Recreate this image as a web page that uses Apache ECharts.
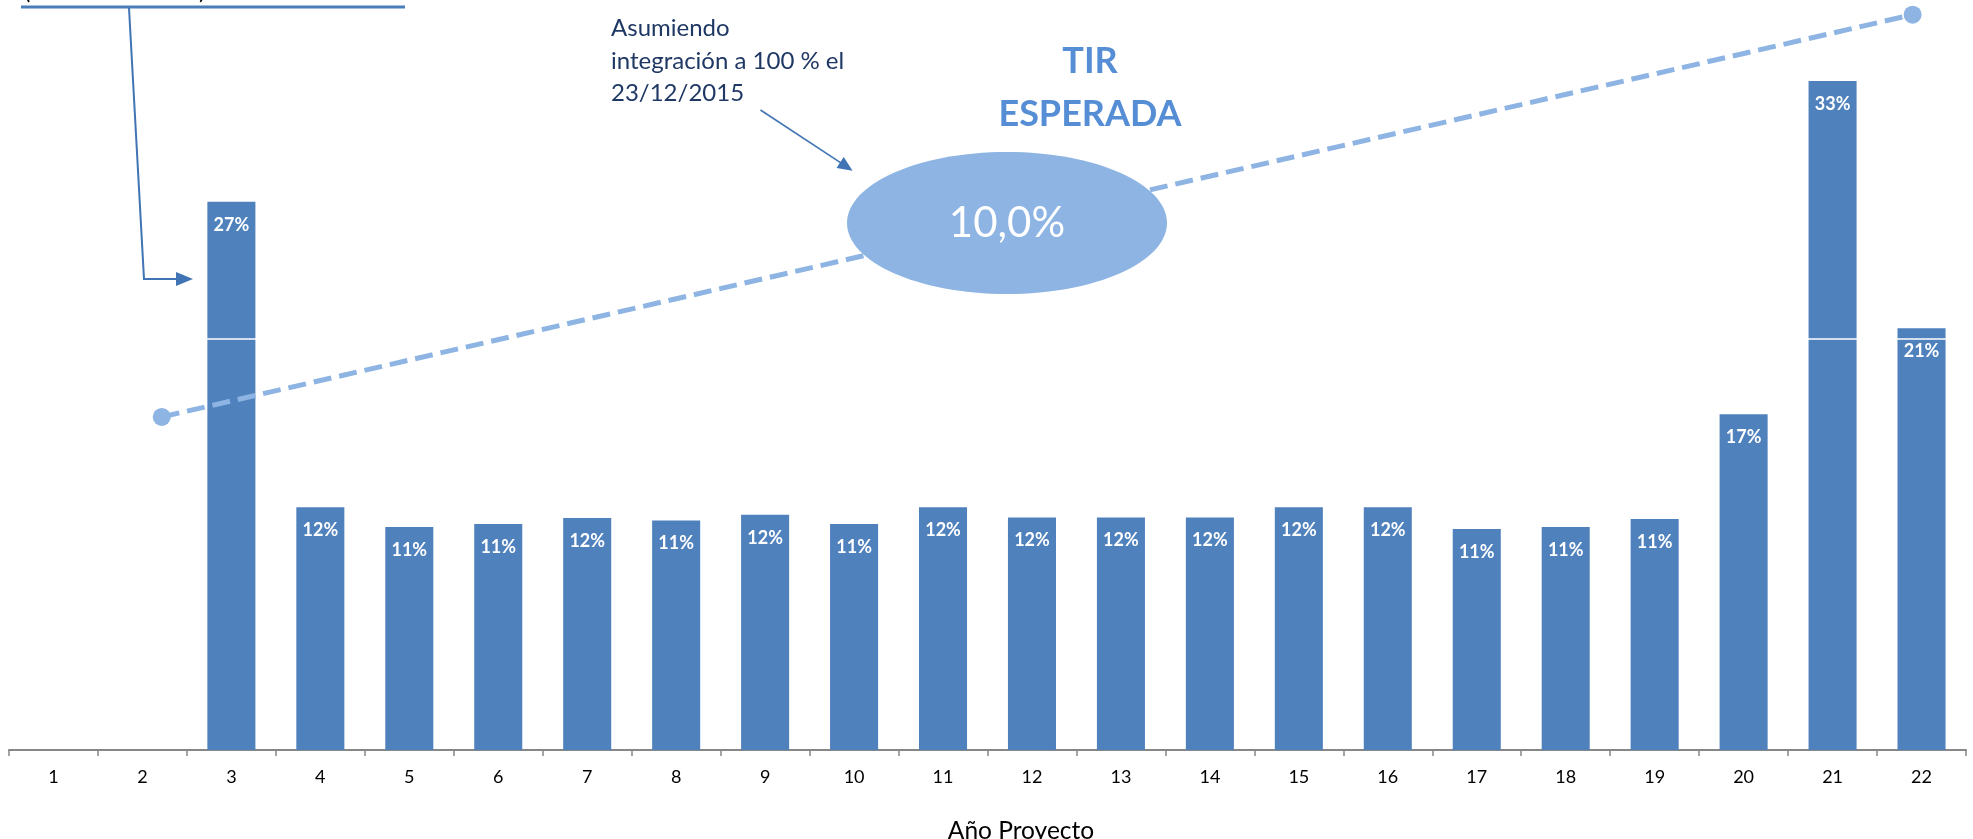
<!DOCTYPE html>
<html lang="es">
<head>
<meta charset="utf-8">
<title>TIR por año de proyecto</title>
<script src="https://cdn.jsdelivr.net/npm/echarts@6/dist/echarts.min.js"></script>
<style>
  html, body { margin: 0; padding: 0; background: #ffffff; }
  #chart { width: 1973px; height: 839px; }
</style>
</head>
<body>
<div id="chart"></div>
<script>
// Años del proyecto (eje de categorías)
const years = ['1','2','3','4','5','6','7','8','9','10','11','12','13','14','15','16','17','18','19','20','21','22'];

// TIR anual por año de proyecto (fracción); los años 1 y 2 no tienen valor
const tirAnual = [null, null, 0.2723, 0.1206, 0.1108, 0.1123, 0.1152, 0.1140, 0.1168, 0.1123,
                  0.1206, 0.1155, 0.1155, 0.1155, 0.1206, 0.1206, 0.1097, 0.1108, 0.1147,
                  0.1667, 0.3323, 0.2094];

// Línea de referencia blanca sobre las barras
const refLevel = 0.204;

// Tendencia discontinua: posición en unidades de año (eje continuo 0–22) y nivel
const trendX = [1.717, 21.40];
const trendY = [0.1654, 0.3652];

// TIR esperada mostrada en la elipse
const tirEsperada = 0.10;

const BAR = '#4F81BD';
const LIGHT = '#8DB4E2';
const NAVY = '#1F3864';
const ARROW = '#4074B4';

const fmtPct = v => Math.round(v * 100) + '%';
const fmtPctComma = v => (v * 100).toFixed(1).replace('.', ',') + '%';

const chart = echarts.init(document.getElementById('chart'), null, { renderer: 'canvas' });

chart.setOption({
  animation: false,
  backgroundColor: '#ffffff',
  textStyle: { fontFamily: 'Lato' },
  grid: { left: 9, right: 7, top: 5, bottom: 89, containLabel: false, outerBoundsMode: 'none' },
  xAxis: [
    {
      type: 'category',
      data: years,
      boundaryGap: true,
      axisLine: { show: true, lineStyle: { color: '#878787', width: 2 } },
      axisTick: { show: true, interval: 0, length: 6, lineStyle: { color: '#878787', width: 1.5 } },
      axisLabel: { interval: 0, margin: 18, color: '#000000', fontSize: 18, fontFamily: 'Lato' },
      splitLine: { show: false },
      name: 'Año Proyecto',
      nameLocation: 'middle',
      nameGap: 69,
      nameTextStyle: { color: '#000000', fontSize: 24.5, fontFamily: 'Lato', padding: [0, 0, 0, 67] }
    },
    {
      type: 'value',
      min: 0,
      max: 22,
      show: false
    }
  ],
  yAxis: {
    type: 'value',
    min: 0,
    max: 0.37,
    show: false,
    splitLine: { show: false }
  },
  series: [
    {
      type: 'bar',
      data: tirAnual,
      barCategoryGap: '46%',
      z: 2,
      itemStyle: { color: BAR },
      label: {
        show: true,
        position: 'insideTop',
        distance: 14,
        color: '#ffffff',
        fontFamily: 'Lato',
        fontWeight: 'bold',
        fontSize: 18,
        formatter: p => (p.value == null ? '' : fmtPct(p.value))
      },
      markLine: {
        silent: true,
        symbol: 'none',
        precision: 4,
        label: { show: false },
        lineStyle: { color: '#ffffff', width: 1.5, type: 'solid' },
        data: [{ yAxis: refLevel }]
      }
    },
    {
      type: 'line',
      xAxisIndex: 1,
      yAxisIndex: 0,
      data: trendX.map((x, i) => [x, trendY[i]]),
      z: 5,
      symbol: 'circle',
      symbolSize: 18,
      itemStyle: { color: LIGHT },
      lineStyle: { color: LIGHT, width: 5, type: [18, 8], cap: 'butt' },
      label: { show: false }
    }
  ],
  graphic: [
    // Recuadro de nota superior izquierda (cortado) y su conector
    { type: 'text', z: 20, x: 24, y: 3, style: { text: '(', font: '24px Lato', fill: '#000000', textVerticalAlign: 'bottom' } },
    { type: 'text', z: 20, x: 199, y: 3, style: { text: ')', font: '24px Lato', fill: '#000000', textVerticalAlign: 'bottom' } },
    { type: 'line', z: 20, shape: { x1: 21, y1: 7, x2: 405, y2: 7 }, style: { stroke: '#4A7EBB', lineWidth: 3 } },
    { type: 'polyline', z: 20, shape: { points: [[129, 8], [144, 279], [178, 279]] }, style: { stroke: ARROW, lineWidth: 2, fill: null } },
    { type: 'polygon', z: 20, shape: { points: [[176, 272], [193, 279], [176, 286]] }, style: { fill: ARROW } },

    // Nota de integración con flecha hacia la elipse
    {
      type: 'text', z: 20, x: 611, y: 12,
      style: { text: 'Asumiendo\nintegración a 100 % el\n23/12/2015', font: '24px Lato', fill: NAVY, lineHeight: 32.7 }
    },
    { type: 'line', z: 20, shape: { x1: 760.5, y1: 110, x2: 842, y2: 163.7 }, style: { stroke: ARROW, lineWidth: 1.6 } },
    { type: 'polygon', z: 20, shape: { points: [[836.5, 167.9], [843.7, 157.1], [852.6, 170.7]] }, style: { fill: ARROW } },

    // Título de la TIR esperada
    { type: 'text', z: 20, x: 1090, y: 61, style: { text: 'TIR', font: 'bold 36px Lato', fill: '#558ED5', align: 'center', verticalAlign: 'middle' } },
    { type: 'text', z: 20, x: 1090, y: 114, style: { text: 'ESPERADA', font: 'bold 36px Lato', fill: '#558ED5', align: 'center', verticalAlign: 'middle' } },

    // Elipse con el valor
    { type: 'ellipse', z: 30, shape: { cx: 1007, cy: 223, rx: 160, ry: 71 }, style: { fill: LIGHT } },
    {
      type: 'text', z: 31, x: 1007, y: 223,
      style: { text: fmtPctComma(tirEsperada), font: '42px Lato', fill: '#ffffff', align: 'center', verticalAlign: 'middle' }
    }
  ]
});
</script>
</body>
</html>
